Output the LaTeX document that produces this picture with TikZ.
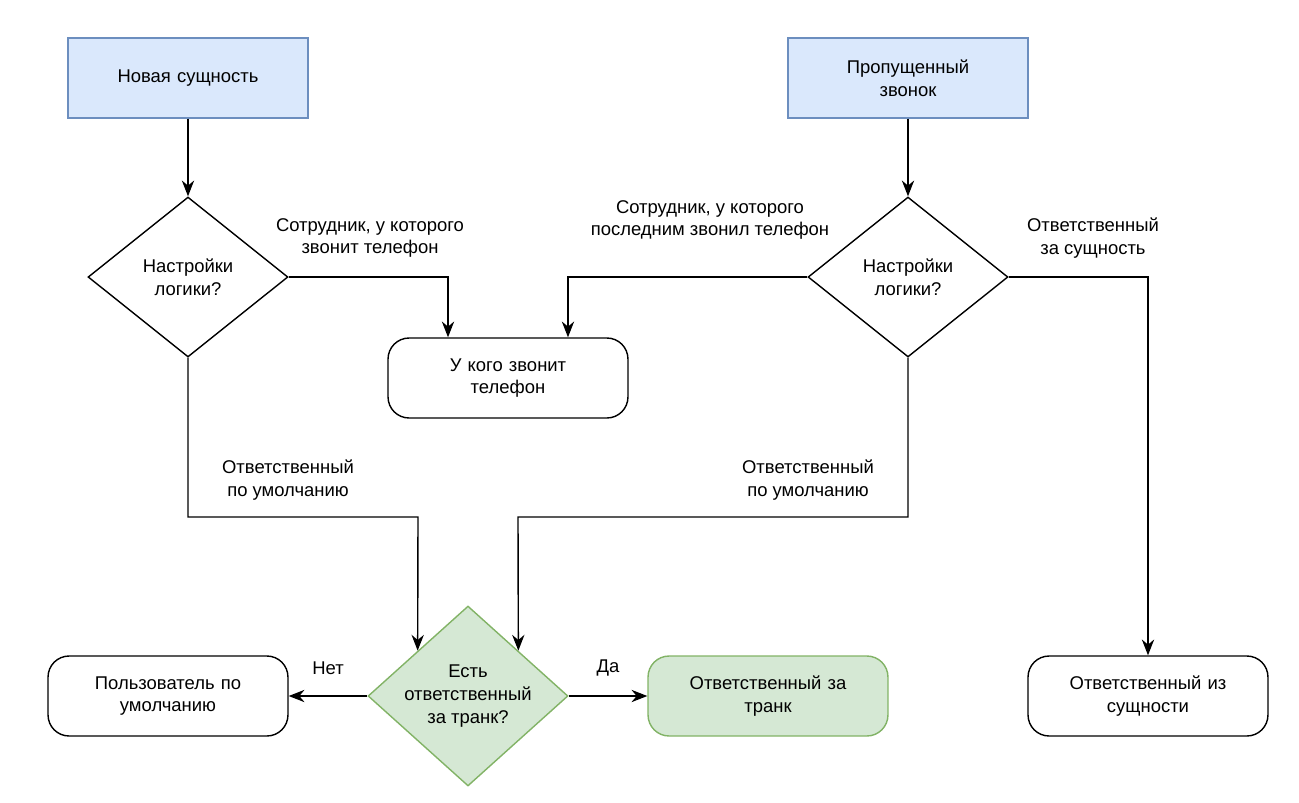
\documentclass[tikz,border=0pt]{standalone}
\usepackage{fontspec}
\setmainfont{Liberation Sans}
\usetikzlibrary{positioning, shapes.geometric, arrows.meta}
\definecolor{blueFill}{HTML}{DAE8FC}
\definecolor{blueLine}{HTML}{6C8EBF}
\definecolor{greenFill}{HTML}{D5E8D4}
\definecolor{greenLine}{HTML}{82B366}
\tikzset{
Arrow/.style = {thick, -{Stealth[length=9pt, width=7pt]}},
}
\begin{document}
\begin{tikzpicture}[x=0.02cm, y=-0.02cm,
			font=\fontsize{10.5}{13}\selectfont,
			start/.style = {rectangle, draw=blueLine, fill=blueFill, thick, minimum width=4.8cm, minimum height=1.6cm, text width=4.2cm, align=center},
			process/.style = {rectangle, rounded corners=12pt, draw, thick, minimum width=4.8cm, minimum height=1.6cm, text width=4.2cm, align=center},
			decision/.style = {diamond, draw, thick, inner sep=0pt, align=center, minimum width=4cm, minimum height=3.2cm, shape aspect=1.25},
			lbl/.style = {align=center},
		]
		\useasboundingbox (0,0) rectangle (1299,802);
		\node[start](NEW) at (188,78){Новая сущность};
		\node[start](MISSED) at (908,78){Пропущенный\\звонок};

		\node[decision](D1) at (188,277){Настройки\\логики?};
		\node[decision](D2) at (908,277){Настройки\\логики?};
		\node[process](RING) at (508,378){У кого звонит\\телефон};

		\node[decision, fill=greenFill, draw=greenLine, minimum height=3.6cm, shape aspect=1.11](D3) at (468,696){Есть\\ответственный\\за транк?};
		\node[process](DEFUSER) at (168,696){Пользователь по\\умолчанию};
		\node[process, fill=greenFill, draw=greenLine](TRUNK) at (768,696){Ответственный за\\транк};
		\node[process](ENTITY) at (1148,696){Ответственный из\\сущности};

		\coordinate(RINGL) at ([xshift=-1.2cm]RING.north);
		\coordinate(RINGR) at ([xshift=1.2cm]RING.north);
		\coordinate(JOINL) at (418,517);
		\coordinate(JOINR) at (518,517);

		\draw[Arrow](NEW)--(D1);
		\draw[Arrow](MISSED)--(D2);
		\draw[Arrow](D1.east)-|(RINGL);
		\draw[Arrow](D2.west)-|(RINGR);
		\draw[Arrow](D2.east)-|(ENTITY);
		\draw[Arrow](D1.south)|-(JOINL)--(D3.north west);
		\draw[Arrow](D2.south)|-(JOINR)--(D3.north east);
		\draw[Arrow](D3)--(DEFUSER);
		\draw[Arrow](D3)--(TRUNK);

		\node[lbl] at (370,238){Сотрудник, у которого\\звонит телефон};
		\node[lbl] at (710,220){Сотрудник, у которого\\последним звонил телефон};
		\node[lbl] at (1093,238){Ответственный\\за сущность};
		\node[lbl] at (288,480){Ответственный\\по умолчанию};
		\node[lbl] at (808,480){Ответственный\\по умолчанию};
		\node[lbl] at (328,668){Нет};
		\node[lbl] at (608,668){Да};

	\end{tikzpicture}
\end{document}
